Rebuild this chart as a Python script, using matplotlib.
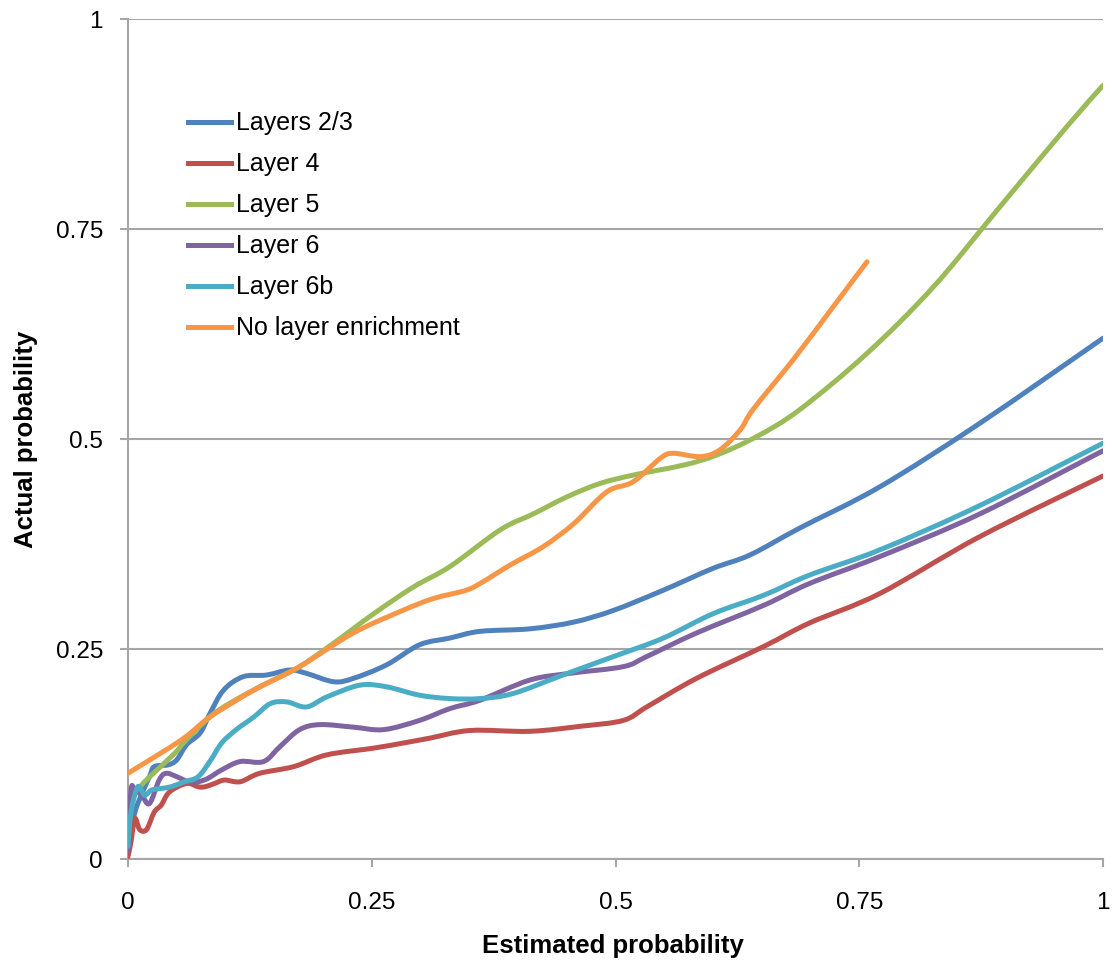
import numpy as np
import matplotlib
matplotlib.use("Agg")
import matplotlib.pyplot as plt
from matplotlib.path import Path
from matplotlib.patches import PathPatch
from matplotlib.lines import Line2D

# values (estimated vs actual probability)
l23_x = [0.0, 0.005, 0.010, 0.022, 0.027, 0.041, 0.050, 0.060, 0.074, 0.084,
         0.098, 0.118, 0.142, 0.166, 0.183, 0.211, 0.231, 0.265, 0.299, 0.330,
         0.361, 0.412, 0.457, 0.498, 0.549, 0.600, 0.638, 0.689, 0.771, 0.874, 1.0]
l23_y = [0.020, 0.046, 0.066, 0.098, 0.110, 0.112, 0.118, 0.136, 0.150, 0.173,
         0.201, 0.217, 0.219, 0.225, 0.221, 0.211, 0.215, 0.231, 0.255, 0.263,
         0.271, 0.274, 0.282, 0.296, 0.320, 0.346, 0.362, 0.394, 0.443, 0.519, 0.620]

l4_x = [0.0, 0.003, 0.007, 0.012, 0.019, 0.027, 0.034, 0.041, 0.051, 0.062,
        0.072, 0.079, 0.089, 0.099, 0.115, 0.135, 0.170, 0.204, 0.252, 0.282,
        0.310, 0.351, 0.412, 0.464, 0.508, 0.532, 0.583, 0.652, 0.699, 0.771,
        0.874, 1.0]
l4_y = [0.003, 0.020, 0.048, 0.035, 0.035, 0.056, 0.064, 0.078, 0.086, 0.090,
        0.086, 0.086, 0.090, 0.094, 0.092, 0.102, 0.110, 0.124, 0.132, 0.138,
        0.144, 0.153, 0.152, 0.158, 0.165, 0.181, 0.215, 0.253, 0.281, 0.316,
        0.384, 0.456]

l5_x = [0.0, 0.002, 0.014, 0.026, 0.048, 0.060, 0.088, 0.122, 0.149, 0.176,
        0.211, 0.252, 0.293, 0.330, 0.382, 0.416, 0.450, 0.484, 0.518, 0.570,
        0.604, 0.645, 0.689, 0.758, 0.826, 0.894, 0.963, 1.0]
l5_y = [0.060, 0.068, 0.088, 0.102, 0.126, 0.142, 0.173, 0.197, 0.213, 0.229,
        0.257, 0.292, 0.324, 0.348, 0.392, 0.411, 0.431, 0.447, 0.457, 0.469,
        0.481, 0.503, 0.535, 0.602, 0.681, 0.776, 0.872, 0.921]

l6_x = [0.0, 0.003, 0.007, 0.014, 0.022, 0.032, 0.039, 0.050, 0.062, 0.072,
        0.082, 0.096, 0.115, 0.139, 0.156, 0.176, 0.197, 0.231, 0.262, 0.299,
        0.330, 0.361, 0.412, 0.453, 0.508, 0.532, 0.583, 0.652, 0.699, 0.771,
        0.874, 1.0]
l6_y = [0.010, 0.082, 0.082, 0.076, 0.066, 0.094, 0.102, 0.098, 0.092, 0.092,
        0.096, 0.106, 0.116, 0.116, 0.134, 0.154, 0.160, 0.157, 0.154, 0.165,
        0.179, 0.189, 0.213, 0.221, 0.229, 0.241, 0.269, 0.302, 0.328, 0.360,
        0.411, 0.486]

l6b_x = [0.0, 0.003, 0.010, 0.017, 0.024, 0.034, 0.044, 0.058, 0.072, 0.085,
         0.096, 0.111, 0.129, 0.146, 0.163, 0.183, 0.204, 0.238, 0.265, 0.299,
         0.330, 0.361, 0.395, 0.446, 0.498, 0.549, 0.600, 0.652, 0.699, 0.771,
         0.874, 1.0]
l6b_y = [0.015, 0.055, 0.086, 0.076, 0.082, 0.084, 0.086, 0.092, 0.098, 0.118,
         0.138, 0.154, 0.169, 0.185, 0.187, 0.181, 0.193, 0.207, 0.205, 0.195,
         0.191, 0.191, 0.197, 0.219, 0.241, 0.263, 0.292, 0.314, 0.338, 0.368,
         0.421, 0.495]

none_x = [0.0, 0.055, 0.084, 0.129, 0.176, 0.231, 0.282, 0.313, 0.347, 0.364,
          0.392, 0.426, 0.457, 0.491, 0.518, 0.546, 0.559, 0.587, 0.607, 0.628,
          0.641, 0.682, 0.723, 0.758]
none_y = [0.102, 0.142, 0.169, 0.201, 0.229, 0.269, 0.296, 0.310, 0.320, 0.330,
          0.350, 0.372, 0.399, 0.437, 0.449, 0.477, 0.483, 0.479, 0.487, 0.511,
          0.535, 0.594, 0.657, 0.711]

labels = ["Layers 2/3", "Layer 4", "Layer 5", "Layer 6", "Layer 6b",
          "No layer enrichment"]
colors = ["#4F81BD", "#C0504D", "#9BBB59", "#8064A2", "#4BACC6", "#F79646"]
ticks = [0, 0.25, 0.5, 0.75, 1]
tick_labels = ["0", "0.25", "0.5", "0.75", "1"]

GRID = "#a6a6a6"
LW = 3.6


def smoothed(xs, ys):
    # excel-style "smoothed line": cubic bezier through every point
    p = np.column_stack([xs, ys])
    n = len(p)
    verts, codes = [p[0]], [Path.MOVETO]
    for i in range(n - 1):
        p0 = p[i - 1] if i > 0 else p[i]
        p3 = p[i + 2] if i + 2 < n else p[i + 1]
        verts += [p[i] + (p[i + 1] - p0) / 6, p[i + 1] - (p3 - p[i]) / 6, p[i + 1]]
        codes += [Path.CURVE4] * 3
    return Path(verts, codes)


plt.rcParams["font.family"] = ["Liberation Sans", "DejaVu Sans"]

fig = plt.figure(figsize=(11.12, 9.63), dpi=100)
ax = fig.add_axes([128 / 1112, 1 - 859 / 963, 975 / 1112, 840 / 963])

series = [(l23_x, l23_y), (l4_x, l4_y), (l5_x, l5_y), (l6_x, l6_y),
          (l6b_x, l6b_y), (none_x, none_y)]
handles = []
for (xs, ys), lab, c in zip(series, labels, colors):
    ax.add_patch(PathPatch(smoothed(xs, ys), fill=False, edgecolor=c,
                           linewidth=LW, capstyle="round", joinstyle="round",
                           zorder=3))
    handles.append(Line2D([0], [0], color=c, linewidth=LW, label=lab))

ax.set_xlim(0, 1)
ax.set_ylim(0, 1)
ax.set_xticks(ticks)
ax.set_xticklabels(tick_labels)
ax.set_yticks(ticks)
ax.set_yticklabels(tick_labels)
ax.yaxis.grid(True, color=GRID, linewidth=1.5)
ax.xaxis.grid(False)
for side in ("top", "right"):
    ax.spines[side].set_visible(False)
for side in ("left", "bottom"):
    ax.spines[side].set_color(GRID)
    ax.spines[side].set_linewidth(1.5)
ax.tick_params(axis="both", direction="out", color=GRID, width=1.5,
               labelsize=17.5, labelcolor="black")
ax.tick_params(axis="y", length=6, pad=12)
ax.tick_params(axis="x", length=5.5, pad=18)

ax.set_xlabel("Estimated probability", fontsize=18.5, fontweight="bold")
ax.set_ylabel("Actual probability", fontsize=18.5, fontweight="bold")
ax.xaxis.set_label_coords(0.497, -0.089)
ax.yaxis.set_label_coords(-0.092, 0.5)

ax.legend(handles=handles, loc="upper left", bbox_to_anchor=(0.062, 0.89),
          frameon=False, fontsize=18, handlelength=1.7, handletextpad=0.2,
          labelspacing=0.68, borderpad=0, borderaxespad=0)

fig.savefig("out.png", dpi=100)
